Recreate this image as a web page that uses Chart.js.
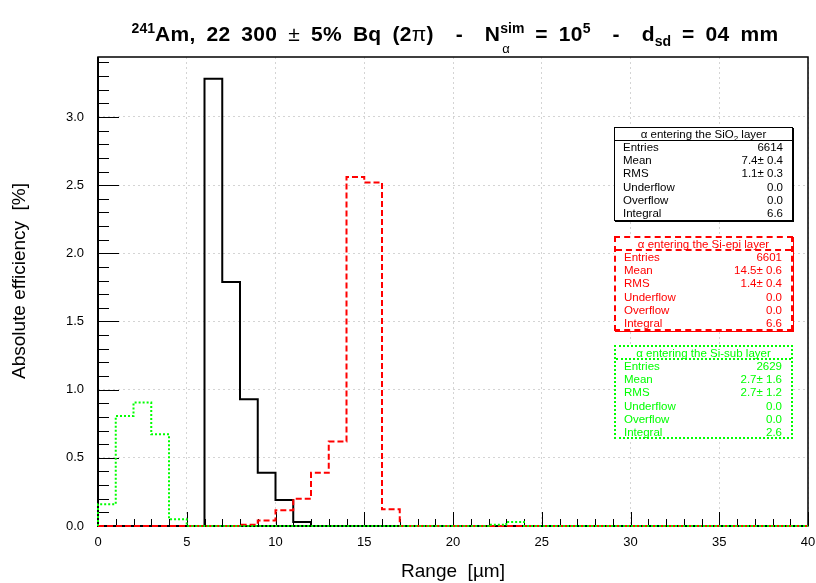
<!DOCTYPE html>
<html>
<head>
<meta charset="utf-8">
<script src="https://cdn.jsdelivr.net/npm/chart.js@4.4.0/dist/chart.umd.min.js"></script>
<style>
    body { margin: 0; background: #fff; font-family: "Liberation Sans", Arial, sans-serif; }
    #wrap { position: relative; width: 816px; height: 583px; overflow: hidden; }
    #chart { position: absolute; left: 0; top: 0; }
    #title { position: absolute; left: 47px; top: 23px; width: 816px; text-align: center; white-space: pre;
             font-weight: bold; font-size: 21px; line-height: 21px; letter-spacing: 0.3px; word-spacing: 4.8px; color: #000; }
    #title .sup { font-size: 14px; position: relative; top: -8px; letter-spacing: 0; }
    #title .sub { font-size: 14px; position: relative; top: 5px; letter-spacing: 0; }
    #title .thin { font-weight: normal; }
    #title .stack { position: relative; display: inline-block; }
    #title .stack .a { position: absolute; left: 2px; top: 15px; font-size: 13px; font-weight: normal; }
    #ytitle { position: absolute; left: -131px; top: 270px; width: 300px; height: 22px; line-height: 22px;
              text-align: center; font-size: 19px; white-space: pre; transform: rotate(-90deg); color: #000; }
    .stats { position: absolute; left: 614px; width: 179px; box-sizing: border-box; background: #fff;
             font-size: 11.5px; line-height: 13.2px; }
    .stats .hd { text-align: center; line-height: 12px; }
    .stats .hd sub { font-size: 8px; line-height: 0; }
    .stats .row { display: flex; justify-content: space-between; padding: 0 9px 0 8px; }
    #s1 { top: 127px; height: 94px; border: 1px solid #000; box-shadow: 1px 1px 0 #000; color: #000; }
    #s1 .hd { height: 12px; border-bottom: 1px solid #000; }
    #s2 { top: 236px; height: 95px; border: 2px dashed #f00; box-shadow: 1px 1px 0 #f00; color: #f00; }
    #s2 .hd { height: 11px; border-bottom: 2px dashed #f00; }
    #s3 { top: 345px; height: 94px; border: 2px dotted #0f0; color: #0f0; }
    #s3 .hd { height: 11px; border-bottom: 2px dotted #0f0; }
</style>
</head>
<body>
<div id="wrap">
    <canvas id="chart" width="816" height="583"></canvas>
    <div id="title"><span class="sup">241</span>Am, 22 300 <span class="thin">±</span> 5% Bq (2<span class="thin">π</span>)  -  N<span class="stack"><span class="sup">sim</span><span class="a">α</span></span> = 10<span class="sup">5</span>  -  d<span class="sub">sd</span> = 04 mm</div>
    <div id="ytitle">Absolute efficiency  [%]</div>
    <div class="stats" id="s1"><div class="hd">α entering the SiO<sub>2</sub> layer</div><div class="body"></div></div>
    <div class="stats" id="s2"><div class="hd">α entering the Si-epi layer</div><div class="body"></div></div>
    <div class="stats" id="s3"><div class="hd">α entering the Si-sub layer</div><div class="body"></div></div>
</div>
<script>
// 1 um bins from 0 to 40 um, absolute efficiency in %
const BIN_EDGES = Array.from({ length: 41 }, (_, i) => i);

const SIO2 = [0, 0, 0, 0, 0, 0, 3.28, 1.79, 0.93, 0.39,
              0.19, 0.03, 0, 0, 0, 0, 0, 0, 0, 0,
              0, 0, 0, 0, 0, 0, 0, 0, 0, 0,
              0, 0, 0, 0, 0, 0, 0, 0, 0, 0];

const SI_EPI = [0, 0, 0, 0, 0, 0, 0, 0, 0.01, 0.04,
                0.115, 0.2, 0.39, 0.62, 2.56, 2.52, 0.122, 0, 0, 0,
                0, 0, 0, 0, 0, 0, 0, 0, 0, 0,
                0, 0, 0, 0, 0, 0, 0, 0, 0, 0];

const SI_SUB = [0.16, 0.807, 0.905, 0.673, 0.05, 0, 0, 0, 0, 0,
                0, 0, 0, 0, 0, 0, 0, 0, 0, 0,
                0, 0, 0.01, 0.03, 0, 0, 0, 0, 0, 0,
                0, 0, 0, 0, 0, 0, 0, 0, 0, 0];

// stats box contents
const STAT_LABELS = ['Entries', 'Mean', 'RMS', 'Underflow', 'Overflow', 'Integral'];
const STATS_SIO2 = ['6614', '7.4± 0.4', '1.1± 0.3', '0.0', '0.0', '6.6'];
const STATS_EPI = ['6601', '14.5± 0.6', '1.4± 0.4', '0.0', '0.0', '6.6'];
const STATS_SUB = ['2629', '2.7± 1.6', '2.7± 1.2', '0.0', '0.0', '2.6'];

const X_MIN = 0, X_MAX = 40, Y_MIN = 0, Y_MAX = 3.44;

function fillStats(id, values) {
    document.querySelector('#' + id + ' .body').innerHTML = STAT_LABELS.map((l, i) =>
        `<div class="row"><span>${l}</span><span>${values[i]}</span></div>`).join('');
}
fillStats('s1', STATS_SIO2);
fillStats('s2', STATS_EPI);
fillStats('s3', STATS_SUB);

// histogram outline: start from 0, one point per bin low edge, close at last edge
function histPoints(values) {
    const pts = [{ x: BIN_EDGES[0], y: 0 }];
    values.forEach((v, i) => pts.push({ x: BIN_EDGES[i], y: v }));
    pts.push({ x: BIN_EDGES[BIN_EDGES.length - 1], y: values[values.length - 1] });
    pts.push({ x: BIN_EDGES[BIN_EDGES.length - 1], y: 0 });
    return pts;
}

// ROOT style frame with inward ticks
const rootFrame = {
    id: 'rootFrame',
    beforeDatasetsDraw(chart) {
        const { ctx, chartArea: a, scales: { x, y } } = chart;
        ctx.save();
        ctx.strokeStyle = '#000';
        ctx.lineWidth = 1.5;
        ctx.strokeRect(a.left, a.top, a.right - a.left, a.bottom - a.top);

        ctx.lineWidth = 1;
        ctx.beginPath();
        for (let i = 0; i <= (X_MAX - X_MIN); i++) {
            const px = Math.round(x.getPixelForValue(X_MIN + i)) + 0.5;
            const len = i % 5 === 0 ? 14 : 7;
            ctx.moveTo(px, a.bottom);
            ctx.lineTo(px, a.bottom - len);
        }
        for (let i = 0; i * 0.1 <= Y_MAX; i++) {
            const py = Math.round(y.getPixelForValue(i * 0.1)) + 0.5;
            const len = i % 5 === 0 ? 21 : 11;
            ctx.moveTo(a.left, py);
            ctx.lineTo(a.left + len, py);
        }
        ctx.stroke();

        ctx.lineWidth = 2;
        ctx.beginPath();
        ctx.moveTo(a.left, a.top);
        ctx.lineTo(a.left, a.bottom);
        ctx.lineTo(a.right, a.bottom);
        ctx.stroke();
        ctx.restore();
    }
};

Chart.defaults.font.family = '"Liberation Sans", Arial, sans-serif';
Chart.defaults.color = '#000';

const common = { pointRadius: 0, borderWidth: 2, stepped: 'before', fill: false, clip: false,
                 borderJoinStyle: 'miter', borderCapStyle: 'butt' };

new Chart(document.getElementById('chart'), {
    type: 'line',
    data: {
        datasets: [
            { ...common, label: 'SiO2', data: histPoints(SIO2), borderColor: '#000', order: 3 },
            { ...common, label: 'Si-epi', data: histPoints(SI_EPI), borderColor: '#f00', borderDash: [6, 3], order: 2 },
            { ...common, label: 'Si-sub', data: histPoints(SI_SUB), borderColor: '#0f0', borderDash: [2, 2], order: 1 },
        ]
    },
    options: {
        responsive: false,
        animation: false,
        devicePixelRatio: 1,
        layout: { padding: { left: 0, top: 57, right: 8, bottom: 0 } },
        plugins: { legend: { display: false }, tooltip: { enabled: false } },
        scales: {
            x: {
                type: 'linear', min: X_MIN, max: X_MAX,
                afterFit: s => { s.height = 57; s.paddingLeft = 0; s.paddingRight = 0; },
                ticks: { stepSize: 5, padding: 9, maxRotation: 0, font: { size: 13 } },
                grid: { color: '#d4d4d4', lineWidth: 1, drawTicks: false },
                border: { display: false, dash: [2, 3] },
                title: { display: true, text: 'Range  [µm]', font: { size: 19 }, padding: { top: 0, bottom: 0 } }
            },
            y: {
                min: Y_MIN, max: Y_MAX,
                afterFit: s => { s.width = 98; s.paddingTop = 0; s.paddingBottom = 0; },
                ticks: { stepSize: 0.5, includeBounds: false, padding: 14, font: { size: 13 },
                         callback: v => v.toFixed(1) },
                grid: { color: '#d4d4d4', lineWidth: 1, drawTicks: false },
                border: { display: false, dash: [2, 3] },
                title: { display: false }
            }
        }
    },
    plugins: [rootFrame]
});
</script>
</body>
</html>
